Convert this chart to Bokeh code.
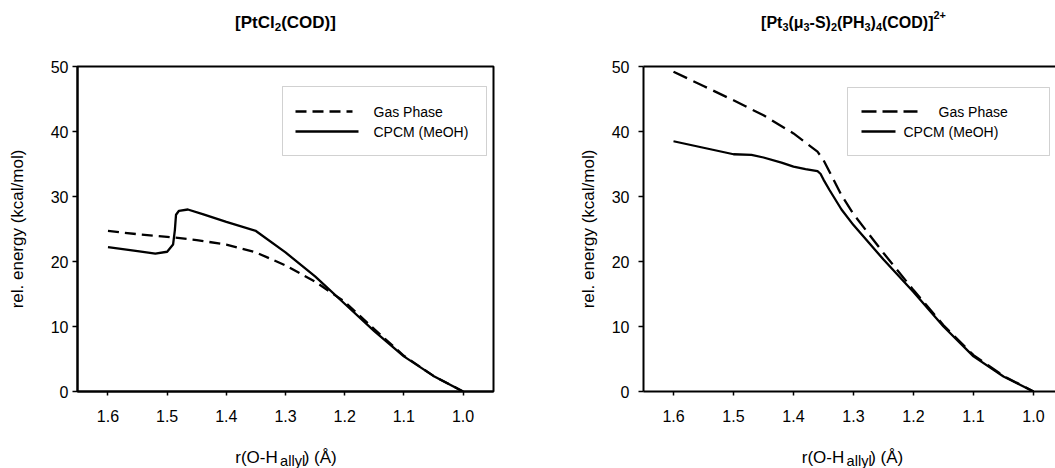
from bokeh.plotting import figure
from bokeh.layouts import row, column
from bokeh.models import (Range1d, FixedTicker, PrintfTickFormatter, Label, BoxAnnotation,
                          LinearAxis)
from bokeh.embed import file_html
from bokeh.resources import INLINE

# ---------------- data ----------------
r_gas_a = [1.60, 1.55, 1.50, 1.45, 1.40, 1.35, 1.30, 1.25, 1.20, 1.15, 1.10, 1.05, 1.00]
e_gas_a = [24.7, 24.2, 23.8, 23.3, 22.6, 21.4, 19.4, 16.9, 13.8, 9.6, 5.5, 2.4, 0.0]

r_cpcm_a = [1.60, 1.55, 1.52, 1.50, 1.49, 1.487, 1.485, 1.48, 1.465, 1.44, 1.40, 1.35,
            1.30, 1.25, 1.20, 1.15, 1.10, 1.05, 1.00]
e_cpcm_a = [22.2, 21.6, 21.2, 21.5, 22.6, 24.8, 27.2, 27.8, 28.0, 27.3, 26.1, 24.7,
            21.4, 17.7, 13.5, 9.3, 5.4, 2.4, 0.0]

r_gas_b = [1.60, 1.55, 1.50, 1.45, 1.40, 1.37, 1.36, 1.35, 1.34, 1.32, 1.30, 1.25,
           1.20, 1.15, 1.10, 1.05, 1.00]
e_gas_b = [49.2, 47.0, 44.8, 42.5, 39.7, 37.6, 36.9, 35.6, 33.8, 30.2, 27.3, 21.3,
           15.6, 10.2, 5.6, 2.4, 0.0]

r_cpcm_b = [1.60, 1.55, 1.50, 1.47, 1.45, 1.42, 1.40, 1.38, 1.36, 1.355, 1.35, 1.34,
            1.32, 1.30, 1.25, 1.20, 1.15, 1.10, 1.05, 1.00]
e_cpcm_b = [38.5, 37.5, 36.5, 36.4, 36.0, 35.2, 34.6, 34.2, 33.9, 33.5, 32.6, 31.0,
            28.0, 25.6, 20.3, 15.3, 10.0, 5.4, 2.3, 0.0]

x_ticks = [1.6, 1.5, 1.4, 1.3, 1.2, 1.1, 1.0]
y_ticks = [0, 10, 20, 30, 40, 50]
series_names = ["Gas Phase", "CPCM (MeOH)"]
y_label = "rel. energy (kcal/mol)"
x_label_pieces = [("r(O-H", "n"), ("allyl", "sub"), (") (Å)", "n")]
title_a = [("[PtCl", "n"), ("2", "sub"), ("(COD)]", "n")]
title_b = [("[Pt", "n"), ("3", "sub"), ("(μ", "n"), ("3", "sub"), ("-S)", "n"),
           ("2", "sub"), ("(PH", "n"), ("3", "sub"), (")", "n"), ("4", "sub"),
           ("(COD)]", "n"), ("2+", "sup")]

FONT = "Liberation Sans"

# Arial / Liberation Sans advance widths (per 1000 em)
W_REG = {" ": 278, "(": 333, ")": 333, "-": 333, ".": 278, "/": 278, "+": 584,
         "A": 667, "C": 722, "D": 722, "H": 722, "M": 833, "O": 778, "P": 667,
         "S": 667, "[": 278, "]": 278, "a": 556, "e": 556, "h": 556, "l": 222,
         "s": 500, "t": 278, "y": 500, "Å": 667, "μ": 576}
W_BOLD = {" ": 278, "(": 333, ")": 333, "-": 333, "+": 584, "C": 722, "D": 722,
          "H": 722, "O": 778, "P": 667, "S": 667, "[": 333, "]": 333, "l": 278,
          "t": 333, "μ": 611}


def text_w(s, size, bold):
    tab = W_BOLD if bold else W_REG
    return sum(tab.get(c, 556) for c in s) * size / 1000.0


def make_geom(fl, fr, ft, fb, xs, xe, ys, ye):
    def px2x(px):
        return xs + (px - fl) / (fr - fl) * (xe - xs)

    def px2y(py):
        return ys + (fb - py) / (fb - ft) * (ye - ys)
    return px2x, px2y


def strip(width, height):
    s = figure(width=width, height=height, x_range=Range1d(0, width),
               y_range=Range1d(height, 0), output_backend="svg", toolbar_location=None,
               x_axis_type=None, y_axis_type=None, min_border=0, frame_align=False)
    s.grid.visible = False
    s.outline_line_color = None
    s.background_fill_color = "white"
    s.border_fill_color = "white"
    return s


def rich_text(s, pieces, cx, base, size, bold, sub_scale=0.68, sub_drop=0.25, kern=0.0):
    small = size * sub_scale
    sizes = [size if k == "n" else small for _, k in pieces]
    total = sum(text_w(t, z, bold) for (t, _), z in zip(pieces, sizes)) + kern * (len(pieces) - 1)
    x = cx - total / 2.0
    for (t, k), z in zip(pieces, sizes):
        dy = 0.0
        if k == "sub":
            dy = sub_drop * size
        elif k == "sup":
            dy = -0.45 * size
        s.add_layout(Label(x=x, y=base + dy, text=t,
                           text_font=FONT, text_font_size=f"{z:.1f}px",
                           text_font_style="bold" if bold else "normal",
                           text_align="left", text_baseline="alphabetic",
                           text_color="black"))
        x += text_w(t, z, bold) + kern


def legend(p, conv, box, keys):
    px2x, px2y = conv
    l, t, r, b = box
    p.add_layout(BoxAnnotation(left=px2x(l), right=px2x(r), top=px2y(t), bottom=px2y(b),
                               fill_color="white", fill_alpha=1.0, line_color="#666666",
                               line_width=1, level="underlay"))
    for x0, x1, y, dash, tx, txt in keys:
        p.line([px2x(x0), px2x(x1)], [px2y(y), px2y(y)], line_color="black",
               line_width=2.4, line_dash=dash)
        p.add_layout(Label(x=px2x(tx), y=px2y(y), text=txt, text_font=FONT,
                           text_font_size="14px", text_align="left",
                           text_baseline="middle", text_color="black"))


def base_fig(width, height, fl, fr, ft, fb, xs, xe, outline):
    p = figure(width=width, height=height, x_range=Range1d(xs, xe), y_range=Range1d(0, 50),
               output_backend="svg", toolbar_location=None, frame_align=False,
               min_border_left=fl, min_border_right=width - fr,
               min_border_top=ft, min_border_bottom=height - fb)
    p.grid.visible = False
    p.background_fill_color = "white"
    p.border_fill_color = "white"
    if outline:
        p.outline_line_color = "black"
        p.outline_line_width = 2
    else:
        p.outline_line_color = None
    for ax in (p.xaxis[0], p.yaxis[0]):
        ax.axis_line_width = 2
        ax.axis_line_color = "black"
        ax.major_tick_line_width = 1.5
        ax.major_tick_line_color = "black"
        ax.minor_tick_line_color = None
        ax.major_tick_in = 0
        ax.major_label_text_font = FONT
        ax.major_label_text_font_size = "16px"
        ax.major_label_text_color = "black"
    p.xaxis.ticker = FixedTicker(ticks=x_ticks)
    p.xaxis.formatter = PrintfTickFormatter(format="%.1f")
    p.xaxis.major_tick_out = 4
    p.xaxis.major_label_standoff = 14
    p.yaxis.ticker = FixedTicker(ticks=y_ticks)
    p.yaxis.major_tick_out = 5
    p.yaxis.axis_label = y_label
    p.yaxis.axis_label_text_font = FONT
    p.yaxis.axis_label_text_font_size = "17px"
    p.yaxis.axis_label_text_font_style = "normal"
    p.yaxis.axis_label_text_color = "black"
    return p


H_TOP, H_MAIN, H_BOT = 56, 376, 36
FT, FB = 10, 335

# ---------------- left panel ----------------
WA = 530
FLa, FRa = 77, 493
xsa, xea = 1.6515, 0.9485
pa = base_fig(WA, H_MAIN, FLa, FRa, FT, FB, xsa, xea, True)
pa.yaxis.major_label_standoff = 4
pa.yaxis.axis_label_standoff = 21
conv_a = make_geom(FLa, FRa, FT, FB, xsa, xea, 0, 50)
pa.line(r_gas_a, e_gas_a, line_color="black", line_width=2.3, line_dash="11 6")
pa.line(r_cpcm_a, e_cpcm_a, line_color="black", line_width=2.3)
legend(pa, conv_a, (282, 30, 486, 99),
       [(295, 352, 55, "11 6", 373, series_names[0]),
        (295, 358, 75, "solid", 373, series_names[1])])
ta = strip(WA, H_TOP)
rich_text(ta, title_a, 285, 22, 17, True)
xa = strip(WA, H_BOT)
rich_text(xa, x_label_pieces, 285.5, 25, 17, False, sub_scale=0.86, sub_drop=0.2, kern=-1.5)

# ---------------- right panel ----------------
WB = 525
FLb, FRb = 113, 525
xsb, xeb = 1.65, 0.9633
pb = base_fig(WB, H_MAIN, FLb, FRb, FT, FB, xsb, xeb, False)
pb.yaxis.major_label_standoff = 9
pb.yaxis.axis_label_standoff = 11
top_axis = LinearAxis(ticker=FixedTicker(ticks=[]), axis_line_width=2, axis_line_color="black",
                      major_tick_line_color=None, minor_tick_line_color=None,
                      major_label_text_font_size="0px")
pb.add_layout(top_axis, "above")
conv_b = make_geom(FLb, FRb, FT, FB, xsb, xeb, 0, 50)
pb.line(r_gas_b, e_gas_b, line_color="black", line_width=2.3, line_dash="15 7")
pb.line(r_cpcm_b, e_cpcm_b, line_color="black", line_width=2.3)
legend(pb, conv_b, (317, 31, 519, 99),
       [(331, 387, 55, "15 6", 408, series_names[0]),
        (331, 365, 75, "solid", 373, series_names[1])])
tb = strip(WB, H_TOP)
rich_text(tb, title_b, 323, 22, 16, True)
xb = strip(WB, H_BOT)
rich_text(xb, x_label_pieces, 322, 25, 17, False, sub_scale=0.86, sub_drop=0.2, kern=-1.5)

layout = row(column(ta, pa, xa, spacing=0), column(tb, pb, xb, spacing=0), spacing=0)
open("out.html", "w").write(file_html(layout, INLINE))
